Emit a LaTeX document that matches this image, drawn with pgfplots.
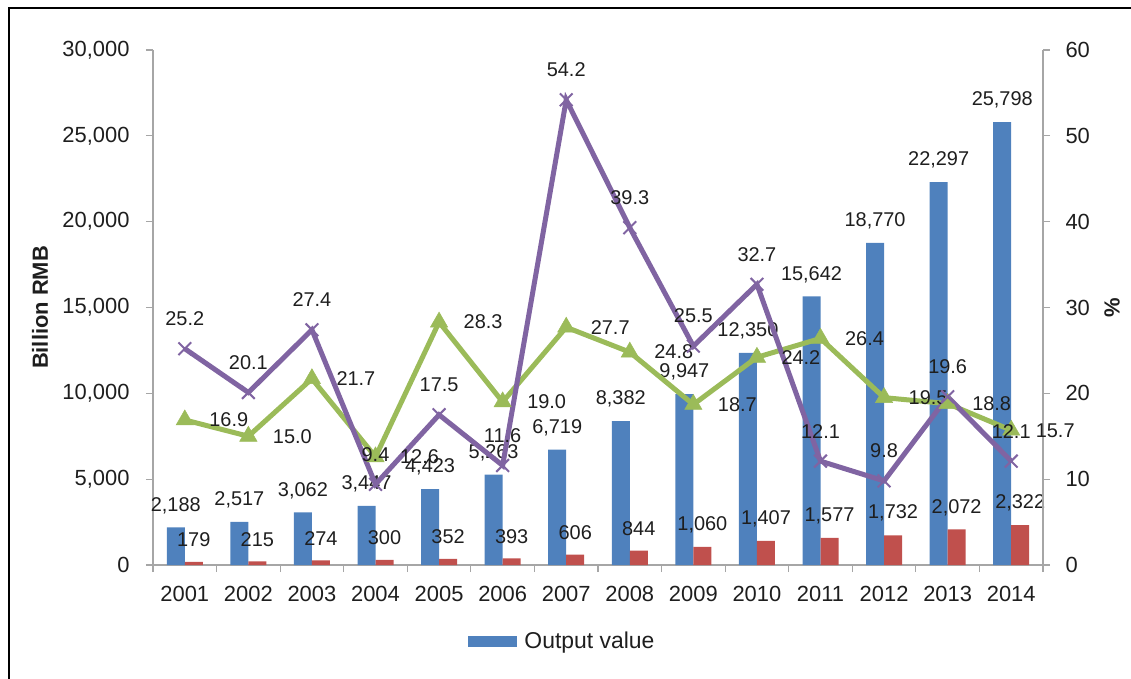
\documentclass[border=0pt]{standalone}
\usepackage{pgfplots}
\pgfplotsset{compat=1.18}
\usepackage{pgfplotstable}
\usepackage{fontspec}
\setmainfont{Liberation Sans}
\definecolor{cblue}{RGB}{79,129,189}
\definecolor{cred}{RGB}{192,80,77}
\definecolor{cgreen}{RGB}{155,187,89}
\definecolor{cpurple}{RGB}{128,100,162}
\definecolor{axgray}{RGB}{166,166,166}
\definecolor{txt}{RGB}{30,30,30}

\pgfplotstableread{
x output other gOut gOther
0 2188 179 16.9 25.2
1 2517 215 15.0 20.1
2 3062 274 21.7 27.4
3 3447 300 12.6 9.4
4 4423 352 28.3 17.5
5 5263 393 19.0 11.6
6 6719 606 27.7 54.2
7 8382 844 24.8 39.3
8 9947 1060 18.7 25.5
9 12350 1407 24.2 32.7
10 15642 1577 26.4 12.1
11 18770 1732 19.5 9.8
12 22297 2072 18.8 19.6
13 25798 2322 15.7 12.1
}\datatable

\pgfplotsset{base/.style={
  width=890bp, height=515bp, scale only axis,
  at={(153bp,-565bp)}, anchor=south west,
  xmin=-0.5, xmax=13.5,
  tick align=outside, major tick length=7bp, minor tick length=7bp,
  axis line style={axgray, line width=1.2bp},
  tick style={axgray, line width=1.2bp},
  /pgf/number format/assume math mode=true,
  tick label style={font=\fontsize{22}{26}\selectfont, text=txt},
}}

\begin{document}
\begin{tikzpicture}
\path[use as bounding box] (0,0) rectangle (1131bp,-679bp);
\draw[black, line width=1.5bp] (9bp,-700bp) -- (9bp,-8bp) -- (1150bp,-8bp);

\begin{axis}[base,
  axis y line*=left, axis x line*=bottom,
  ymin=0, ymax=30000, ytick={0,5000,10000,15000,20000,25000,30000},
  scaled y ticks=false,
  /pgf/number format/1000 sep={,},
  xtick={0,1,2,3,4,5,6,7,8,9,10,11,12,13},
  xticklabels={2001,2002,2003,2004,2005,2006,2007,2008,2009,2010,2011,2012,2013,2014},
  major x tick style={draw=none},
  minor xtick={-0.5,0.5,1.5,2.5,3.5,4.5,5.5,6.5,7.5,8.5,9.5,10.5,11.5,12.5,13.5},
  yticklabel style={xshift=-13bp},
  xticklabel style={yshift=-11bp},
  ylabel={\bfseries Billion RMB},
  ylabel style={at={(axis description cs:-0.127,0.5)}, anchor=center, font=\fontsize{22}{26}\selectfont, text=txt},
  legend style={at={(axis description cs:0.460,-0.1476)}, anchor=center, draw=none, fill=none,
    column sep=5bp, font=\fontsize{23}{27}\selectfont, text=txt},
]
\addplot[ybar, bar width=18bp, bar shift=-9bp, fill=cblue, draw=none,
  legend image code/.code={\fill[cblue] (0bp,-5.5bp) rectangle (49bp,5.5bp);},
  nodes near coords,
  every node near coord/.append style={anchor=center, xshift=-9bp, yshift=22bp, font=\fontsize{20}{23}\selectfont, text=txt}]
  table[x=x, y=output]{\datatable};
\addlegendentry{Output value}
\addplot[ybar, bar width=18bp, bar shift=9bp, fill=cred, draw=none, forget plot,
  nodes near coords,
  every node near coord/.append style={anchor=center, xshift=9bp, yshift=22bp, font=\fontsize{20}{23}\selectfont, text=txt}]
  table[x=x, y=other]{\datatable};
\end{axis}

\begin{axis}[base,
  axis y line*=right, axis x line=none,
  ymin=0, ymax=60, ytick={0,10,20,30,40,50,60},
  yticklabel style={xshift=12bp},
  ylabel={\bfseries\%},
  ylabel style={at={(axis description cs:1.0775,0.5)}, anchor=center, rotate=0, font=\fontsize{22}{26}\selectfont, text=txt},
  clip=false,
]
\addplot[cgreen, line width=5bp, mark=triangle*, mark size=10bp,
  mark options={solid, line width=0.5bp, fill=cgreen},
  nodes near coords={\pgfmathprintnumber[fixed,fixed zerofill,precision=1]{\pgfplotspointmeta}},
  every node near coord/.append style={anchor=center, xshift=44bp, font=\fontsize{20}{23}\selectfont, text=txt}]
  table[x=x, y=gOut]{\datatable};
\addplot[cpurple, line width=5bp, mark=x, mark size=9bp,
  mark options={solid, line width=2bp},
  nodes near coords={\pgfmathprintnumber[fixed,fixed zerofill,precision=1]{\pgfplotspointmeta}},
  every node near coord/.append style={anchor=center, yshift=30bp, font=\fontsize{20}{23}\selectfont, text=txt}]
  table[x=x, y=gOther]{\datatable};
\end{axis}
\end{tikzpicture}
\end{document}
